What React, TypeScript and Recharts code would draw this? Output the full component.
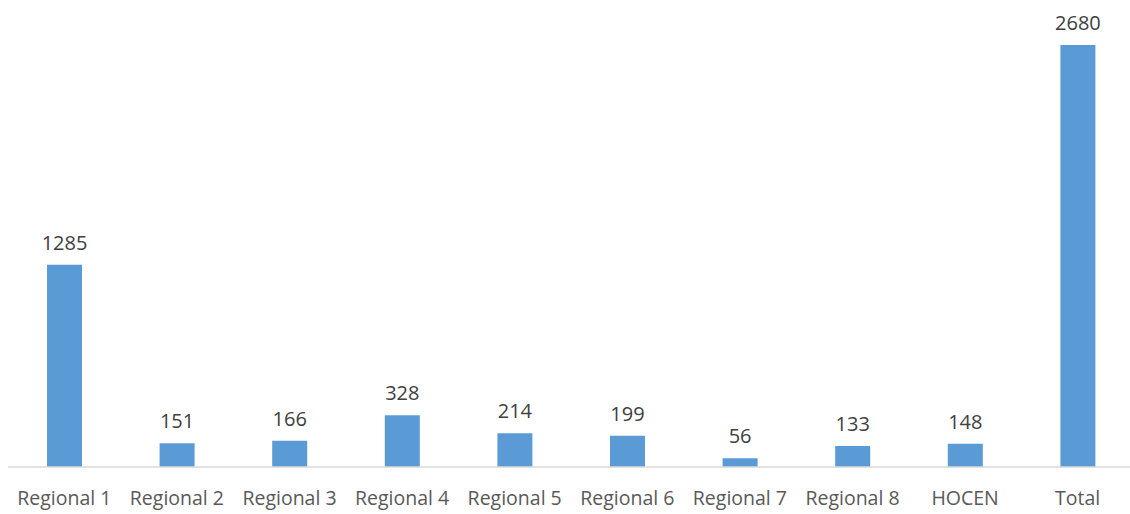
import { Bar, BarChart, LabelList, XAxis, YAxis } from 'recharts';

const categories = [
  'Regional 1',
  'Regional 2',
  'Regional 3',
  'Regional 4',
  'Regional 5',
  'Regional 6',
  'Regional 7',
  'Regional 8',
  'HOCEN',
  'Total',
];
const counts = [1285, 151, 166, 328, 214, 199, 56, 133, 148, 2680];

const chartData = categories.map((name, i) => ({ name, value: counts[i] }));

const font = '"Open Sans", "Liberation Sans", sans-serif';

export default function App() {
  return (
    <div style={{ position: 'absolute', left: 0, top: 0, width: 1130, height: 514, overflow: 'hidden', background: '#fff' }}>
      <BarChart
        width={1134}
        height={514}
        data={chartData}
        margin={{ top: 45, right: 0, bottom: 0, left: 8 }}
        barSize={35}
      >
        <XAxis
          dataKey="name"
          height={47}
          axisLine={{ stroke: '#d9d9d9', strokeWidth: 1.5 }}
          tickLine={false}
          interval={0}
          tick={{ fill: '#595959', fontSize: 19.5, fontFamily: font }}
          dy={16}
        />
        <YAxis hide domain={[0, 2680]} />
        <Bar dataKey="value" fill="#5b9bd5" isAnimationActive={false}>
          <LabelList
            dataKey="value"
            position="top"
            offset={15}
            fill="#404040"
            fontSize={20}
            fontFamily={font}
          />
        </Bar>
      </BarChart>
    </div>
  );
}
